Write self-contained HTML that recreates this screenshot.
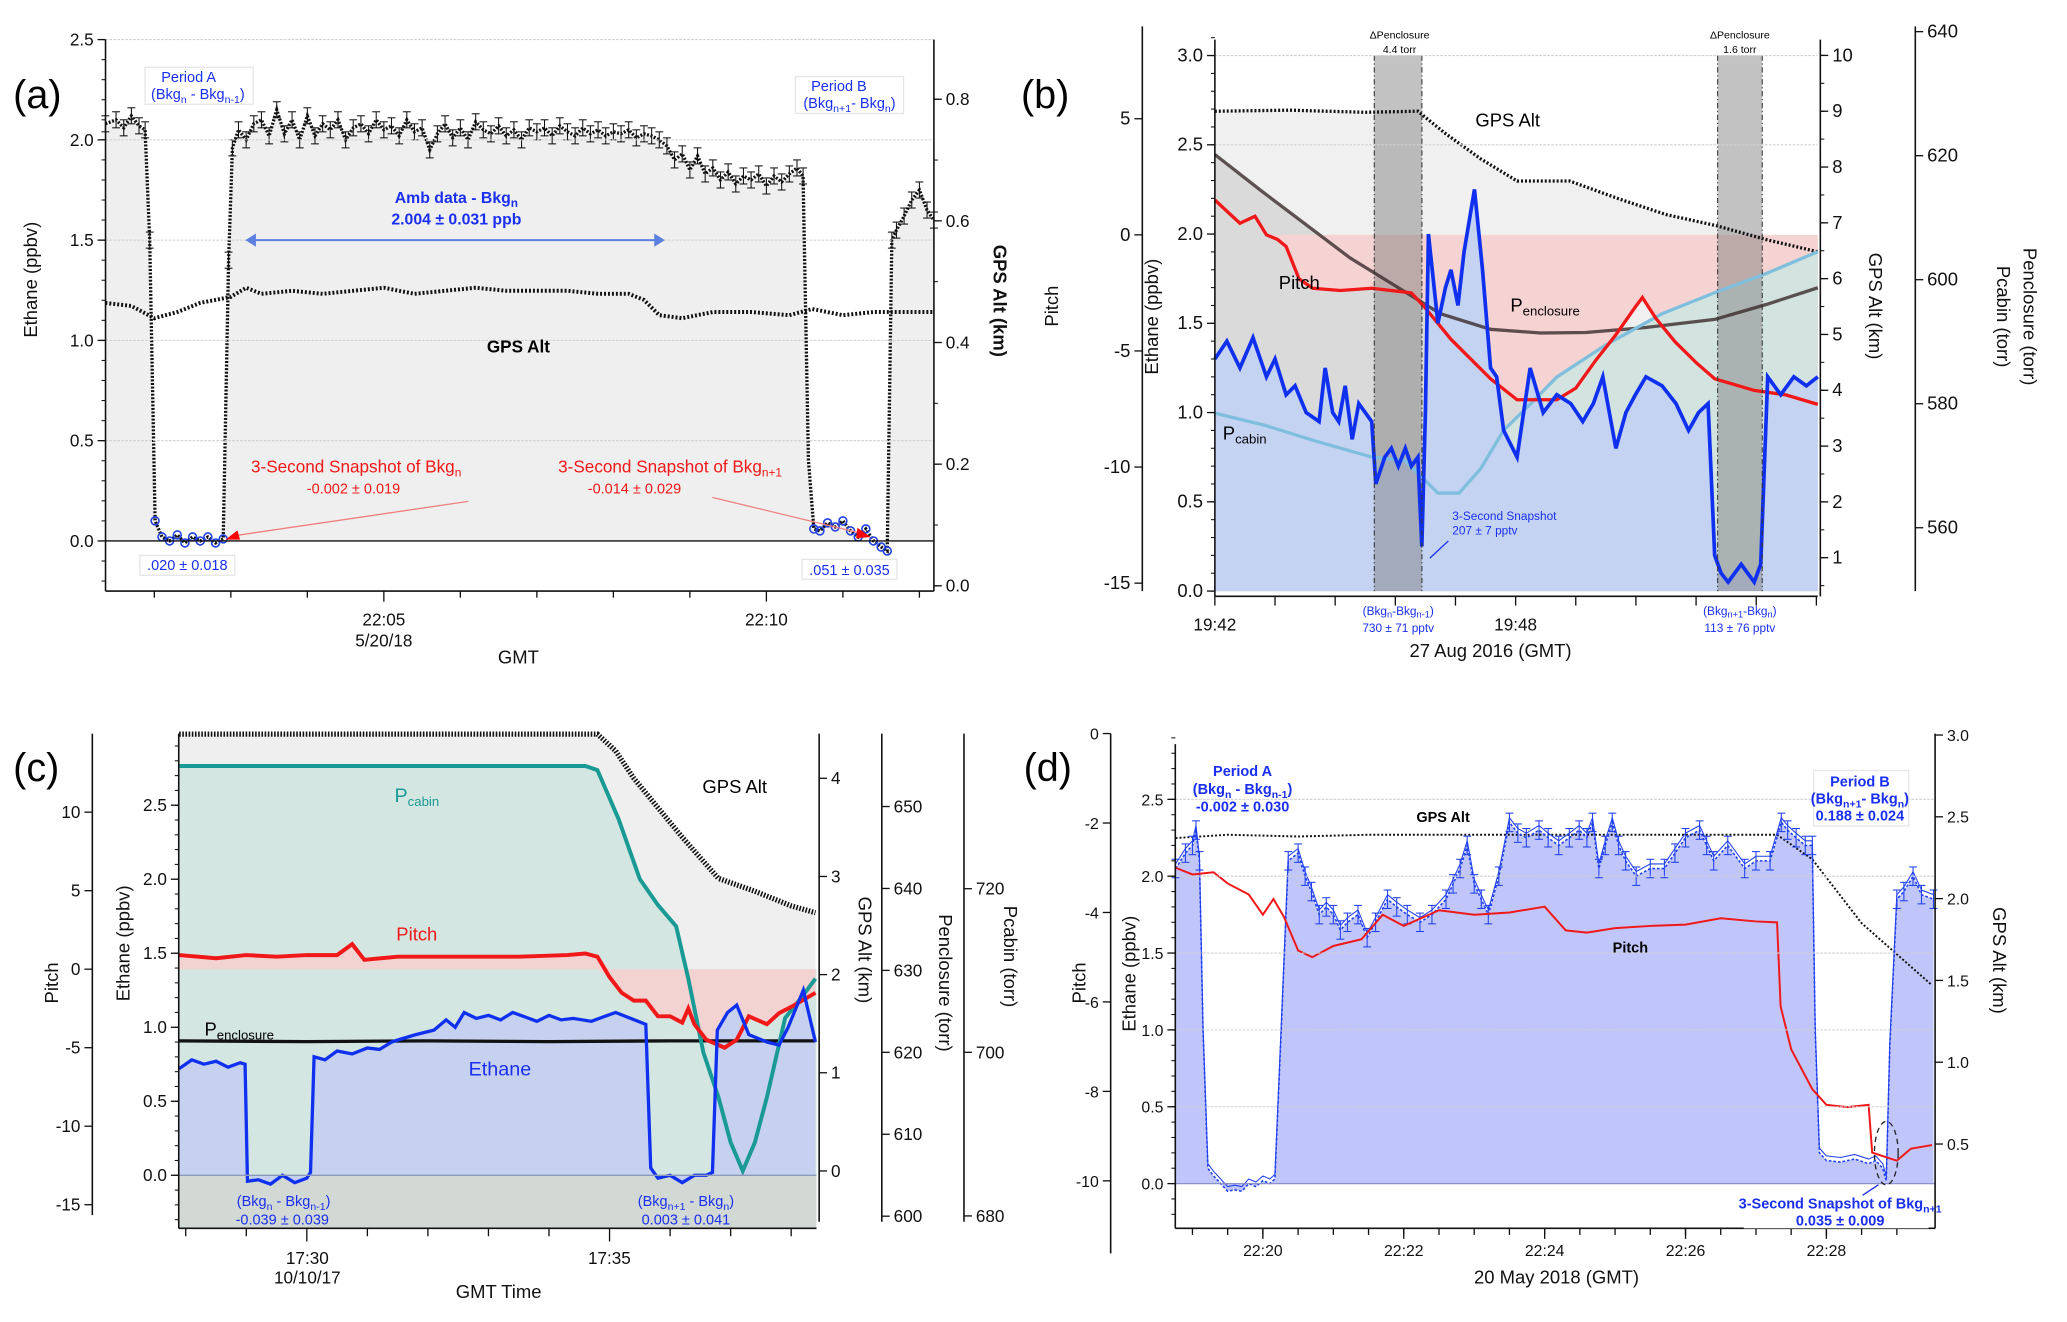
<!DOCTYPE html>
<html><head><meta charset="utf-8">
<style>
html,body{margin:0;padding:0;background:#fff;}
svg{display:block;font-family:"Liberation Sans",Arial,sans-serif;}
.tk{font-size:13px;fill:#111;}
.ttl{font-size:14px;fill:#111;}
.bl{fill:#1a2ff0;}
.rd{fill:#f01818;}
</style></head>
<body>
<svg id="fig" width="2067" height="1322" viewBox="0 0 1567 1002" preserveAspectRatio="none">
<g id="layer-fill"></g>
<g id="layer-series"></g>
<g id="layer-axes"></g>
<g id="layer-text">
 <!-- panel a -->
 <text x="10" y="82" font-size="30">(a)</text>
 <text class="ttl" transform="translate(28,212) rotate(-90)" text-anchor="middle">Ethane (ppbv)</text>
 <text class="ttl" font-weight="bold" transform="translate(753,228) rotate(90)" text-anchor="middle">GPS Alt (km)</text>
 <text class="tk" x="291" y="474" text-anchor="middle">22:05</text>
 <text class="tk" x="291" y="490" text-anchor="middle">5/20/18</text>
 <text class="ttl" x="393" y="503" text-anchor="middle">GMT</text>
 <text class="tk" x="581" y="474" text-anchor="middle">22:10</text>
 <rect x="110" y="51" width="82" height="28" fill="#fff" stroke="#e6e6e6"/>
 <text class="bl" x="143" y="62" font-size="11" text-anchor="middle">Period A</text>
 <text class="bl" x="150" y="75" font-size="11" text-anchor="middle">(Bkg<tspan font-size="8" dy="3">n</tspan><tspan dy="-3"> -  Bkg</tspan><tspan font-size="8" dy="3">n-1</tspan><tspan dy="-3">)</tspan></text>
 <rect x="603" y="58" width="82" height="28" fill="#fff" stroke="#e6e6e6"/>
 <text class="bl" x="636" y="69" font-size="11" text-anchor="middle">Period B</text>
 <text class="bl" x="644" y="82" font-size="11" text-anchor="middle">(Bkg<tspan font-size="8" dy="3">n+1</tspan><tspan dy="-3">- Bkg</tspan><tspan font-size="8" dy="3">n</tspan><tspan dy="-3">)</tspan></text>
 <text class="bl" x="346" y="154" font-size="12" font-weight="bold" text-anchor="middle">Amb data - Bkg<tspan font-size="9" dy="3">n</tspan></text>
 <text class="bl" x="346" y="170" font-size="12" font-weight="bold" text-anchor="middle">2.004 ±  0.031 ppb</text>
 <line x1="192" y1="182" x2="498" y2="182" stroke="#5c7fe0" stroke-width="1.5"/>
 <polygon points="186,182 194,177 194,187" fill="#5c7fe0"/>
 <polygon points="504,182 496,177 496,187" fill="#5c7fe0"/>
 <text x="393" y="267" font-size="13" font-weight="bold" text-anchor="middle">GPS Alt</text>
 <text class="rd" x="270" y="358" font-size="13" text-anchor="middle">3-Second Snapshot of Bkg<tspan font-size="9" dy="3">n</tspan></text>
 <text class="rd" x="268" y="374" font-size="11" text-anchor="middle">-0.002 ± 0.019</text>
 <text class="rd" x="508" y="358" font-size="13" text-anchor="middle">3-Second Snapshot of Bkg<tspan font-size="9" dy="3">n+1</tspan></text>
 <text class="rd" x="481" y="374" font-size="11" text-anchor="middle">-0.014 ± 0.029</text>
 <line x1="355" y1="380" x2="178" y2="406" stroke="#f08080"/>
 <polygon points="171,409 180,402 182,409" fill="#f00"/>
 <line x1="540" y1="377" x2="652" y2="404" stroke="#f08080"/>
 <polygon points="660,407 650,400 649,408" fill="#f00"/>
 <rect x="106" y="421" width="72" height="15" fill="#fff" stroke="#e6e6e6"/>
 <text class="bl" x="142" y="432" font-size="11" text-anchor="middle">.020 ± 0.018</text>
 <rect x="608" y="424" width="72" height="15" fill="#fff" stroke="#e6e6e6"/>
 <text class="bl" x="644" y="436" font-size="11" text-anchor="middle">.051 ± 0.035</text>

 <!-- panel b -->
 <text x="774" y="82" font-size="30">(b)</text>
 <text class="ttl" font-size="15" transform="translate(802,232) rotate(-90)" text-anchor="middle">Pitch</text>
 <text class="ttl" font-size="15" transform="translate(878,240) rotate(-90)" text-anchor="middle">Ethane (ppbv)</text>
 <text class="ttl" font-size="15" transform="translate(1417,232) rotate(90)" text-anchor="middle">GPS Alt (km)</text>
 <text class="ttl" font-size="15" transform="translate(1534,240) rotate(90)" text-anchor="middle">Penclosure (torr)</text>
 <text class="ttl" font-size="15" transform="translate(1514,240) rotate(90)" text-anchor="middle">Pcabin (torr)</text>
 <text class="tk" font-size="15" x="921" y="478" text-anchor="middle">19:42</text>
 <text class="tk" font-size="15" x="1149" y="478" text-anchor="middle">19:48</text>
 <text class="ttl" font-size="16" x="1130" y="498" text-anchor="middle">27 Aug 2016  (GMT)</text>
 <text x="1061" y="29" font-size="8" text-anchor="middle">ΔPenclosure</text>
 <text x="1061" y="40" font-size="8" text-anchor="middle">4.4 torr</text>
 <text x="1319" y="29" font-size="8" text-anchor="middle">ΔPenclosure</text>
 <text x="1319" y="40" font-size="8" text-anchor="middle">1.6 torr</text>
 <text x="1143" y="96" font-size="14" text-anchor="middle">GPS Alt</text>
 <text x="985" y="219" font-size="14" text-anchor="middle">Pitch</text>
 <text x="1145" y="236" font-size="14">P<tspan font-size="10" dy="3">enclosure</tspan></text>
 <text x="927" y="333" font-size="14">P<tspan font-size="10" dy="3">cabin</tspan></text>
 <text class="bl" x="1101" y="394" font-size="9">3-Second Snapshot</text>
 <text class="bl" x="1101" y="405" font-size="9">207 ± 7 pptv</text>
 <line x1="1098" y1="410" x2="1084" y2="423" stroke="#1a2ff0"/>
 <text class="bl" x="1060" y="466" font-size="9" text-anchor="middle">(Bkg<tspan font-size="7" dy="2">n</tspan><tspan dy="-2">-Bkg</tspan><tspan font-size="7" dy="2">n-1</tspan><tspan dy="-2">)</tspan></text>
 <text class="bl" x="1060" y="479" font-size="9" text-anchor="middle">730 ± 71 pptv</text>
 <text class="bl" x="1319" y="466" font-size="9" text-anchor="middle">(Bkg<tspan font-size="7" dy="2">n+1</tspan><tspan dy="-2">-Bkg</tspan><tspan font-size="7" dy="2">n</tspan><tspan dy="-2">)</tspan></text>
 <text class="bl" x="1319" y="479" font-size="9" text-anchor="middle">113 ± 76 pptv</text>

 <!-- panel c -->
 <text x="10" y="592" font-size="30">(c)</text>
 <text class="ttl" transform="translate(44,745) rotate(-90)" text-anchor="middle">Pitch</text>
 <text class="ttl" transform="translate(98,715) rotate(-90)" text-anchor="middle">Ethane (ppbv)</text>
 <text class="ttl" transform="translate(651,720) rotate(90)" text-anchor="middle">GPS Alt (km)</text>
 <text class="ttl" transform="translate(712,745) rotate(90)" text-anchor="middle">Penclosure (torr)</text>
 <text class="ttl" transform="translate(761,725) rotate(90)" text-anchor="middle">Pcabin (torr)</text>
 <text class="tk" x="233" y="958" text-anchor="middle">17:30</text>
 <text class="tk" x="233" y="973" text-anchor="middle">10/10/17</text>
 <text class="tk" x="462" y="958" text-anchor="middle">17:35</text>
 <text class="ttl" x="378" y="984" text-anchor="middle">GMT Time</text>
 <text x="316" y="608" font-size="15" fill="#1a9a94" text-anchor="middle">P<tspan font-size="10" dy="3">cabin</tspan></text>
 <text class="rd" x="316" y="713" font-size="14" text-anchor="middle">Pitch</text>
 <text x="155" y="785" font-size="14">P<tspan font-size="10" dy="3">enclosure</tspan></text>
 <text class="bl" x="379" y="815" font-size="15" text-anchor="middle">Ethane</text>
 <text x="557" y="601" font-size="14" text-anchor="middle">GPS Alt</text>
 <text class="bl" x="215" y="914" font-size="11" text-anchor="middle">(Bkg<tspan font-size="8" dy="3">n</tspan><tspan dy="-3"> - Bkg</tspan><tspan font-size="8" dy="3">n-1</tspan><tspan dy="-3">)</tspan></text>
 <text class="bl" x="214" y="928" font-size="11" text-anchor="middle">-0.039 ± 0.039</text>
 <text class="bl" x="520" y="914" font-size="11" text-anchor="middle">(Bkg<tspan font-size="8" dy="3">n+1</tspan><tspan dy="-3"> - Bkg</tspan><tspan font-size="8" dy="3">n</tspan><tspan dy="-3">)</tspan></text>
 <text class="bl" x="520" y="928" font-size="11" text-anchor="middle">0.003 ± 0.041</text>

 <!-- panel d -->
 <text x="776" y="592" font-size="30">(d)</text>
 <text class="ttl" transform="translate(823,745) rotate(-90)" text-anchor="middle">Pitch</text>
 <text class="ttl" transform="translate(861,738) rotate(-90)" text-anchor="middle">Ethane (ppbv)</text>
 <text class="ttl" transform="translate(1511,728) rotate(90)" text-anchor="middle">GPS Alt (km)</text>
 <text class="ttl" x="1180" y="973" text-anchor="middle">20 May 2018 (GMT)</text>
 <text class="bl" x="942" y="588" font-size="11" font-weight="bold" text-anchor="middle">Period A</text>
 <text class="bl" x="942" y="602" font-size="11" font-weight="bold" text-anchor="middle">(Bkg<tspan font-size="8" dy="3">n</tspan><tspan dy="-3"> -  Bkg</tspan><tspan font-size="8" dy="3">n-1</tspan><tspan dy="-3">)</tspan></text>
 <text class="bl" x="942" y="615" font-size="11" font-weight="bold" text-anchor="middle">-0.002 ± 0.030</text>
 <rect x="1375" y="584" width="72" height="42" fill="#fff" stroke="#e6e6e6"/>
 <text class="bl" x="1410" y="596" font-size="11" font-weight="bold" text-anchor="middle">Period B</text>
 <text class="bl" x="1410" y="609" font-size="11" font-weight="bold" text-anchor="middle">(Bkg<tspan font-size="8" dy="3">n+1</tspan><tspan dy="-3">- Bkg</tspan><tspan font-size="8" dy="3">n</tspan><tspan dy="-3">)</tspan></text>
 <text class="bl" x="1410" y="622" font-size="11" font-weight="bold" text-anchor="middle">0.188 ± 0.024</text>
 <text x="1094" y="623" font-size="11" font-weight="bold" text-anchor="middle">GPS Alt</text>
 <text x="1236" y="722" font-size="11" font-weight="bold" text-anchor="middle">Pitch</text>
 <rect x="1322" y="905" width="140" height="26" fill="#fff"/>
 <text class="bl" x="1395" y="916" font-size="11" font-weight="bold" text-anchor="middle">3-Second Snapshot of Bkg<tspan font-size="8" dy="3">n+1</tspan></text>
 <text class="bl" x="1395" y="929" font-size="11" font-weight="bold" text-anchor="middle">0.035 ± 0.009</text>
 <ellipse cx="1430" cy="874" rx="9" ry="24" fill="none" stroke="#222" stroke-dasharray="4,3"/>
 <line x1="1412" y1="906" x2="1424" y2="898" stroke="#1a2ff0"/>
</g>
</svg>
<script>
// ---------- Panel (a) data ----------
const aTime = [-3.64,-3.5,-3.4,-3.3,-3.2,-3.12,-3.06,-2.99,-2.9,-2.8,-2.7,-2.6,-2.5,-2.4,-2.3,-2.2,-2.1,-2.03,-1.98,-1.9,-1.8,-1.7,-1.6,-1.5,-1.4,-1.3,-1.2,-1.1,-1.0,-0.9,-0.8,-0.7,-0.6,-0.5,-0.4,-0.3,-0.2,-0.1,0,0.1,0.2,0.3,0.4,0.5,0.6,0.7,0.8,0.9,1.0,1.1,1.2,1.3,1.4,1.5,1.6,1.7,1.8,1.9,2.0,2.1,2.2,2.3,2.4,2.5,2.6,2.7,2.8,2.9,3.0,3.1,3.2,3.3,3.4,3.5,3.6,3.7,3.8,3.9,4.0,4.1,4.2,4.3,4.4,4.5,4.6,4.7,4.8,4.9,5.0,5.1,5.2,5.3,5.4,5.48,5.55,5.62,5.7,5.8,5.9,6.0,6.1,6.2,6.3,6.4,6.5,6.58,6.64,6.7,6.8,6.9,7.0,7.1,7.19];
const aEthane = [2.08,2.1,2.06,2.12,2.07,2.05,1.5,0.1,0.02,0.0,0.03,-0.01,0.02,0.0,0.02,-0.01,0.01,1.4,1.96,2.05,2.0,2.08,2.1,2.02,2.15,2.03,2.1,2.0,2.12,2.02,2.08,2.05,2.1,2.0,2.06,2.08,2.03,2.1,2.05,2.07,2.02,2.1,2.04,2.06,1.95,2.03,2.08,2.01,2.06,2.0,2.09,2.05,2.03,2.07,2.02,2.05,2.0,2.06,2.04,2.06,2.02,2.07,2.04,2.02,2.06,2.03,2.05,2.02,2.04,2.03,2.05,2.01,2.03,2.02,2.0,1.97,1.9,1.93,1.85,1.92,1.83,1.86,1.8,1.84,1.78,1.82,1.8,1.83,1.77,1.82,1.79,1.83,1.86,1.82,0.4,0.06,0.05,0.09,0.07,0.1,0.05,0.02,0.06,0.0,-0.03,-0.05,1.5,1.55,1.62,1.7,1.75,1.65,1.6];
const aGpsTime = [-3.64,-3.3,-3.0,-2.7,-2.4,-2.0,-1.8,-1.6,-1.2,-0.8,-0.4,0,0.4,0.8,1.2,1.6,2.0,2.4,2.8,3.2,3.4,3.6,3.9,4.3,4.8,5.3,5.6,6.0,6.4,6.8,7.19];
const aGps = [0.465,0.46,0.44,0.45,0.465,0.475,0.49,0.48,0.485,0.48,0.485,0.49,0.48,0.485,0.49,0.485,0.485,0.485,0.48,0.48,0.47,0.445,0.44,0.45,0.45,0.445,0.455,0.445,0.45,0.45,0.45];
const aYTicks = [0,0.5,1.0,1.5,2.0,2.5];
const aY2Ticks = [0,0.2,0.4,0.6,0.8];
const aXMinutes = [-3,-2,-1,0,1,2,3,4,5,6,7];

// ---------- Panel (b) data ----------
const bTime = [0,0.24,0.5,0.76,1.03,1.2,1.42,1.6,1.82,2.08,2.2,2.35,2.47,2.6,2.74,2.87,3.0,3.13,3.21,3.39,3.52,3.66,3.8,3.92,4.05,4.13,4.2,4.26,4.45,4.6,4.71,4.85,4.97,5.18,5.34,5.5,5.62,5.76,6.03,6.29,6.55,6.82,7.1,7.34,7.55,7.74,8.0,8.2,8.39,8.6,8.92,9.2,9.45,9.65,9.84,9.97,10.1,10.24,10.5,10.76,10.89,11.03,11.29,11.55,11.8,12.03];
const bEthane = [1.3,1.4,1.25,1.42,1.2,1.3,1.1,1.15,1.0,0.95,1.25,1.0,0.95,1.15,0.85,1.05,1.0,0.95,0.6,0.75,0.8,0.7,0.8,0.7,0.75,0.25,1.0,2.0,1.5,1.7,1.8,1.6,1.9,2.25,1.8,1.25,1.2,0.9,0.75,1.25,1.0,1.1,1.05,0.95,1.05,1.2,0.8,1.0,1.1,1.2,1.15,1.05,0.9,1.0,1.05,0.2,0.1,0.05,0.15,0.05,0.15,1.2,1.1,1.2,1.15,1.2];
const bPitchTime = [0,0.3,0.5,0.8,1.03,1.25,1.42,1.68,1.95,2.5,3.13,3.92,4.18,4.71,5.5,6.03,6.82,7.2,7.6,8.0,8.39,8.53,8.8,9.18,9.6,9.97,10.76,11.4,12.03];
const bPitch = [1.5,0.9,0.5,0.8,0.0,-0.2,-0.5,-1.9,-2.3,-2.4,-2.3,-2.5,-3.1,-4.5,-6.2,-7.1,-7.1,-6.6,-5.4,-4.3,-3.1,-2.7,-3.6,-4.6,-5.5,-6.2,-6.7,-6.9,-7.3];
const bPencTime = [0,0.9,1.8,2.7,3.66,4.5,5.5,6.5,7.4,8.6,9.97,11.0,12.03];
const bPenc = [620.2,614.5,609,603.5,598.7,594.5,592,591.4,591.5,592.3,593.6,596,598.7];
const bCabinTime = [0,1.0,2.0,3.13,3.8,4.45,4.87,5.3,5.76,6.3,6.82,7.8,8.92,10.0,11.0,12.03];
const bCabin = [578.5,576.5,574,571.4,570.8,565.6,565.6,569.5,575.7,580,584.3,589.5,594.5,598,601,604.5];
const bGpsTime = [0,1.5,3.0,4.05,4.6,5.3,6.03,6.5,7.08,8.0,9.0,10.0,11.0,12.03];
const bGps = [9.0,9.02,8.98,9.0,8.6,8.15,7.75,7.75,7.75,7.45,7.15,6.95,6.7,6.48];
const bBands = [[3.18,4.13],[10.03,10.92]];
const bYTicks = [0,0.5,1.0,1.5,2.0,2.5,3.0];
const bPitchTicks = [5,0,-5,-10,-15];
const bGpsTicks = [1,2,3,4,5,6,7,8,9,10];
const bTorrTicks = [560,580,600,620,640];
const bXMinutes = [0,1.2,2.4,3.6,4.8,6.0,7.2,8.4,9.6,10.8,12.0];

// ---------- Panel (c) data ----------
const cTime = [-2.11,-1.9,-1.7,-1.5,-1.3,-1.1,-1.02,-0.98,-0.8,-0.6,-0.4,-0.2,0.0,0.06,0.12,0.3,0.5,0.75,1.0,1.2,1.4,1.55,1.8,2.1,2.3,2.45,2.6,2.8,3.0,3.2,3.4,3.6,3.8,4.0,4.2,4.4,4.7,4.9,5.1,5.35,5.6,5.68,5.8,6.0,6.2,6.4,6.6,6.7,6.78,6.95,7.1,7.3,7.6,7.8,7.95,8.2,8.4];
const cEthane = [0.72,0.78,0.75,0.77,0.73,0.76,0.75,-0.04,-0.03,-0.06,0.0,-0.05,-0.02,0.02,0.8,0.78,0.84,0.82,0.86,0.85,0.9,0.92,0.95,0.98,1.05,1.0,1.1,1.06,1.08,1.05,1.1,1.07,1.04,1.08,1.05,1.06,1.04,1.07,1.1,1.06,1.02,0.05,-0.02,0.0,-0.05,0.0,0.0,0.02,0.98,1.1,1.15,0.95,0.9,0.88,1.0,1.25,0.9];
const cPitchTime = [-2.11,-1.5,-1.0,-0.5,0.0,0.5,0.75,0.95,1.5,2.5,3.5,4.3,4.6,4.8,5.0,5.2,5.4,5.6,5.8,6.0,6.2,6.3,6.4,6.6,6.9,7.1,7.3,7.6,7.8,8.0,8.4];
const cPitch = [0.9,0.7,0.9,0.8,0.9,0.9,1.6,0.6,0.8,0.8,0.8,0.9,1.0,0.8,-0.5,-1.5,-2.0,-2.0,-3.0,-3.0,-3.4,-2.5,-3.5,-4.5,-5.0,-4.5,-3.0,-3.5,-2.8,-2.4,-1.5];
const cPencTime = [-2.11,0,2,4,6,8.4];
const cPenc = [621.4,621.3,621.4,621.3,621.4,621.4];
const cCabinTime = [-2.11,-1.0,0,1,2,3,4,4.6,4.8,5.15,5.5,5.8,6.1,6.3,6.55,6.8,7.0,7.2,7.4,7.6,7.9,8.2,8.4];
const cCabin = [735,735,735,735,735,735,735,735,734.5,728.5,721.2,718,715.4,709,700,694.5,689,685.5,689,694.5,704.2,707,709];
const cGpsTime = [-2.11,0,2,4,4.8,5.1,5.4,5.8,6.2,6.8,7.4,8.0,8.4];
const cGps = [4.45,4.45,4.45,4.45,4.45,4.28,4.0,3.7,3.4,2.98,2.85,2.7,2.63];
const cYTicks = [0,0.5,1.0,1.5,2.0,2.5];
const cPitchTicks = [10,5,0,-5,-10,-15];
const cGpsTicks = [0,1,2,3,4];
const cPencTicks = [600,610,620,630,640,650];
const cCabinTicks = [680,700,720];
const cXMinutes = [-2,-1,0,1,2,3,4,5,6,7,8];

// ---------- Panel (d) data ----------
const dTime = [-1.24,-1.1,-1.0,-0.95,-0.9,-0.85,-0.78,-0.7,-0.6,-0.5,-0.4,-0.3,-0.2,-0.1,0.0,0.1,0.17,0.26,0.36,0.5,0.6,0.69,0.8,0.9,1.0,1.1,1.2,1.35,1.48,1.6,1.77,1.9,2.05,2.23,2.4,2.6,2.7,2.8,2.9,3.0,3.1,3.2,3.35,3.5,3.62,3.74,3.92,4.05,4.2,4.35,4.49,4.6,4.68,4.77,4.86,4.96,5.05,5.15,5.3,5.5,5.7,5.85,6.0,6.2,6.3,6.4,6.6,6.84,7.0,7.2,7.36,7.45,7.57,7.7,7.8,7.84,7.9,8.0,8.2,8.4,8.6,8.7,8.8,8.85,8.9,9.0,9.1,9.23,9.35,9.52];
const dEthane = [2.05,2.15,2.2,2.3,2.1,1.0,0.1,0.05,0.0,-0.05,-0.04,-0.05,0.0,-0.02,0.02,0.0,0.03,1.0,2.1,2.15,2.0,1.9,1.75,1.8,1.75,1.65,1.7,1.75,1.6,1.7,1.85,1.8,1.75,1.7,1.75,1.85,1.95,2.05,2.2,1.95,1.85,1.75,2.0,2.35,2.28,2.25,2.3,2.25,2.2,2.25,2.3,2.25,2.35,2.05,2.2,2.35,2.2,2.1,2.0,2.05,2.05,2.15,2.25,2.3,2.2,2.1,2.2,2.05,2.1,2.1,2.35,2.3,2.25,2.2,2.2,1.0,0.2,0.15,0.14,0.16,0.13,0.15,0.1,0.02,0.9,1.85,1.9,2.0,1.88,1.85];
const dPitchTime = [-1.24,-1.0,-0.7,-0.5,-0.2,0.0,0.15,0.3,0.5,0.7,1.0,1.4,1.7,2.0,2.5,3.0,3.5,4.0,4.3,4.6,5.0,5.5,6.0,6.5,7.0,7.3,7.35,7.5,7.8,8.0,8.3,8.6,8.65,9.0,9.2,9.5];
const dPitch = [-3.0,-3.15,-3.1,-3.35,-3.6,-4.05,-3.7,-4.1,-4.85,-5.0,-4.75,-4.6,-4.05,-4.3,-3.95,-4.05,-4.0,-3.87,-4.4,-4.45,-4.35,-4.3,-4.27,-4.13,-4.2,-4.22,-6.1,-7.06,-7.95,-8.3,-8.35,-8.3,-9.37,-9.55,-9.28,-9.2];
const dGpsTime = [-1.24,-0.5,0.5,1.5,3,4.5,6,7.3,7.8,8.5,9.5];
const dGps = [2.37,2.39,2.38,2.39,2.39,2.39,2.39,2.39,2.24,1.85,1.47];
const dYTicks = [0,0.5,1.0,1.5,2.0,2.5];
const dPitchTicks = [0,-2,-4,-6,-8,-10];
const dGpsTicks = [0.5,1.0,1.5,2.0,2.5,3.0];
const dXLabels = ['22:20','22:22','22:24','22:26','22:28'];
const dXMajor = [0,2,4,6,8];
const dXMinor = [-1,-0.5,0,0.5,1,1.5,2,2.5,3,3.5,4,4.5,5,5.5,6,6.5,7,7.5,8,8.5,9];

// ---------- helpers ----------
const NS = 'http://www.w3.org/2000/svg';
const LF = document.getElementById('layer-fill');
const LS = document.getElementById('layer-series');
const LA = document.getElementById('layer-axes');
function mk(parent, tag, attrs, name) {
  const el = document.createElementNS(NS, tag);
  for (const k in attrs) el.setAttribute(k, attrs[k]);
  
  
  parent.appendChild(el);
  return el;
}
function pts(xs, ys, fx, fy) { return xs.map((t, i) => fx(t).toFixed(1) + ',' + fy(ys[i]).toFixed(1)); }
function linePath(xs, ys, fx, fy) { return 'M' + pts(xs, ys, fx, fy).join('L'); }
function areaPath(xs, ys, fx, fy, base) {
  return linePath(xs, ys, fx, fy) + 'L' + fx(xs[xs.length-1]).toFixed(1) + ',' + base + 'L' + fx(xs[0]).toFixed(1) + ',' + base + 'Z';
}
function vAxis(x, y1, y2, ticks, fy, side, fmt, name, fs, minor) {
  mk(LA, 'line', {x1:x, y1:y1, x2:x, y2:y2, stroke:'#111', 'stroke-width':1.2}, name + '-line');
  const d = side === 'left' ? -1 : 1;
  if (minor) minor.forEach(v => {
    mk(LA, 'line', {x1:x, y1:fy(v), x2:x + d*3, y2:fy(v), stroke:'#111', 'stroke-width':0.8}, name + '-minor-tick');
  });
  ticks.forEach(v => {
    const y = fy(v);
    mk(LA, 'line', {x1:x, y1:y, x2:x + d*6, y2:y, stroke:'#111', 'stroke-width':1}, name + '-tick');
    const t = mk(LA, 'text', {x: x + d*9, y: y + 4.5, 'text-anchor': side === 'left' ? 'end' : 'start', 'font-size': fs || 13, fill:'#111'}, name + '-tick-label');
    t.textContent = fmt(v);
  });
}
function hGrid(x1, x2, vals, fy, name) {
  vals.forEach(v => mk(LA, 'line', {x1:x1, x2:x2, y1:fy(v), y2:fy(v), stroke:'#cfcfcf', 'stroke-width':0.8, 'stroke-dasharray':'2,1'}, name));
}
function range(a, b, s) { const r = []; for (let v = a; v <= b + 1e-9; v += s) r.push(+v.toFixed(4)); return r; }

// ---------- Panel (a) ----------
(function(){
  const fx = t => 291 + 58*t, fy = e => 410 - 152*e, fy2 = k => 444 - 461*k;
  mk(LF, 'path', {d: areaPath(aTime, aEthane, fx, fy, fy(0)), fill:'#efefef'}, 'panel-a-ethane-fill');
  hGrid(80, 708, [0.5,1.0,1.5,2.0,2.5], fy, 'panel-a-gridline');
  mk(LA, 'line', {x1:80, x2:708, y1:fy(0), y2:fy(0), stroke:'#111', 'stroke-width':1}, 'panel-a-zero-line');
  mk(LS, 'path', {d: linePath(aGpsTime, aGps, fx, fy2), fill:'none', stroke:'#111', 'stroke-width':3, 'stroke-dasharray':'1.5,1.5'}, 'panel-a-gps-line');
  mk(LS, 'path', {d: linePath(aTime, aEthane, fx, fy), fill:'none', stroke:'#111', 'stroke-width':2.5, 'stroke-dasharray':'1.5,1.2'}, 'panel-a-ethane-line');
  aTime.forEach((t, i) => {
    const e = aEthane[i], x = fx(t);
    if (e > 1.0) {
      mk(LS, 'line', {x1:x, x2:x, y1:fy(e+0.04), y2:fy(e-0.04), stroke:'#111', 'stroke-width':0.8}, 'panel-a-error-bar');
      mk(LS, 'line', {x1:x-3, x2:x+3, y1:fy(e+0.04), y2:fy(e+0.04), stroke:'#111', 'stroke-width':0.8}, 'panel-a-error-cap');
      mk(LS, 'line', {x1:x-3, x2:x+3, y1:fy(e-0.04), y2:fy(e-0.04), stroke:'#111', 'stroke-width':0.8}, 'panel-a-error-cap');
    } else if (e < 0.2) {
      mk(LS, 'circle', {cx:x, cy:fy(e), r:3, fill:'none', stroke:'#2040e0', 'stroke-width':1.2}, 'panel-a-bkg-point');
    }
  });
  vAxis(80, 30, 448, aYTicks, fy, 'left', v => v.toFixed(1), 'panel-a-y-axis', 13, range(-0.2, 2.5, 0.1));
  vAxis(708, 30, 448, aY2Ticks, fy2, 'right', v => v.toFixed(1), 'panel-a-y2-axis', 13, range(0, 0.8, 0.1));
  mk(LA, 'line', {x1:80, x2:708, y1:448, y2:448, stroke:'#111', 'stroke-width':1.2}, 'panel-a-x-axis');
  aXMinutes.forEach(m => mk(LA, 'line', {x1:fx(m), x2:fx(m), y1:448, y2:(m % 5 === 0 ? 456 : 453), stroke:'#111'}, 'panel-a-x-tick'));
})();

// ---------- Panel (b) ----------
(function(){
  const fx = t => 921 + 38*t, fy = e => 448 - 135.3*e, fp = p => 178 - 17.6*p,
        fg = k => 465 - 42.3*k, ft = v => 24 + (640 - v)*4.7;
  const R = 1378;
  mk(LF, 'path', {d: areaPath(bGpsTime, bGps, fx, fg, 448), fill:'#f0f0f0'}, 'panel-b-gps-fill');
  mk(LF, 'path', {d: areaPath(bPencTime, bPenc, fx, ft, 448), fill:'#dadada'}, 'panel-b-penc-fill');
  const pitchClamp = bPitch.map(p => Math.min(p, 0));
  mk(LF, 'path', {d: areaPath(bPitchTime, pitchClamp, fx, fp, fp(0)), fill:'#f5d3d2'}, 'panel-b-pitch-fill');
  mk(LF, 'path', {d: areaPath(bCabinTime, bCabin, fx, ft, 448), fill:'#d3e4e0'}, 'panel-b-pcabin-fill');
  mk(LF, 'path', {d: areaPath(bTime, bEthane, fx, fy, 448), fill:'#c5d3f3'}, 'panel-b-ethane-fill');
  bBands.forEach(b => {
    mk(LF, 'rect', {x:fx(b[0]), y:42, width:fx(b[1]) - fx(b[0]), height:406, fill:'#777', 'fill-opacity':0.45}, 'panel-b-penc-band');
    mk(LA, 'line', {x1:fx(b[0]), x2:fx(b[0]), y1:42, y2:448, stroke:'#333', 'stroke-width':0.8, 'stroke-dasharray':'4,2,1,2'}, 'panel-b-band-edge');
    mk(LA, 'line', {x1:fx(b[1]), x2:fx(b[1]), y1:42, y2:448, stroke:'#333', 'stroke-width':0.8, 'stroke-dasharray':'4,2,1,2'}, 'panel-b-band-edge');
  });
  hGrid(921, R, [2.5, 3.0], fy, 'panel-b-gridline');
  mk(LS, 'path', {d: linePath(bGpsTime, bGps, fx, fg), fill:'none', stroke:'#111', 'stroke-width':2.5, 'stroke-dasharray':'1.5,1.5'}, 'panel-b-gps-line');
  mk(LS, 'path', {d: linePath(bPencTime, bPenc, fx, ft), fill:'none', stroke:'#3a2a2a', 'stroke-width':2.5, 'stroke-opacity':0.8}, 'panel-b-penc-line');
  mk(LS, 'path', {d: linePath(bCabinTime, bCabin, fx, ft), fill:'none', stroke:'#7fbfdd', 'stroke-width':2.5}, 'panel-b-pcabin-line');
  mk(LS, 'path', {d: linePath(bPitchTime, bPitch, fx, fp), fill:'none', stroke:'#f01818', 'stroke-width':2.5}, 'panel-b-pitch-line');
  mk(LS, 'path', {d: linePath(bTime, bEthane, fx, fy), fill:'none', stroke:'#1030f0', 'stroke-width':2.8}, 'panel-b-ethane-line');
  vAxis(866, 20, 448, bPitchTicks, fp, 'left', v => String(v), 'panel-b-pitch-axis', 14, null);
  vAxis(921, 30, 452, bYTicks, fy, 'left', v => v.toFixed(1), 'panel-b-y-axis', 14, range(0, 3.1, 0.1));
  vAxis(1380, 30, 452, bGpsTicks, fg, 'right', v => String(v), 'panel-b-gps-axis', 14, range(0.5, 10.0, 0.5));
  vAxis(1452, 20, 448, bTorrTicks, ft, 'right', v => String(v), 'panel-b-torr-axis', 14, null);
  mk(LA, 'line', {x1:921, x2:R, y1:452, y2:452, stroke:'#111', 'stroke-width':1.2}, 'panel-b-x-axis');
  bXMinutes.forEach(m => mk(LA, 'line', {x1:fx(m), x2:fx(m), y1:452, y2:459, stroke:'#111'}, 'panel-b-x-tick'));
})();

// ---------- Panel (c) ----------
(function(){
  const fx = t => 232.6 + 45.9*t, fy = e => 890.8 - 112.2*e, fp = p => 734.6 - 11.9*p,
        fg = k => 887.5 - 74.4*k, fpen = v => 611.3 + (650 - v)*6.21, fcab = v => 673.6 + (720 - v)*6.2;
  const L = 135.5, R = 619, T = 556, B = 931;
  mk(LF, 'path', {d: areaPath(cGpsTime, cGps, fx, fg, B), fill:'#efefef'}, 'panel-c-gps-fill');
  mk(LF, 'rect', {x:L, y:fy(0), width:R-L, height:B-fy(0), fill:'#d2d9d5'}, 'panel-c-below-zero-fill');
  mk(LF, 'path', {d: areaPath(cCabinTime, cCabin, fx, fcab, fy(0)), fill:'#d4e6e2'}, 'panel-c-pcabin-fill');
  mk(LF, 'rect', {x:fx(4.7), y:fp(0), width:R - fx(4.7), height:fy(0) - fp(0), fill:'#d4e6e2'}, 'panel-c-pcabin-fill-tail');
  const pPos = cPitch.map(p => Math.max(p, 0)), pNeg = cPitch.map(p => Math.min(p, 0));
  mk(LF, 'path', {d: areaPath(cPitchTime, pPos, fx, fp, fp(0)), fill:'#f3d2d2'}, 'panel-c-pitch-fill-pos');
  mk(LF, 'path', {d: areaPath(cPitchTime, pNeg, fx, fp, fp(0)), fill:'#f3d2d2'}, 'panel-c-pitch-fill-neg');
  mk(LF, 'path', {d: areaPath(cTime, cEthane, fx, fy, fy(0)), fill:'#c6d1f0'}, 'panel-c-ethane-fill');
  mk(LA, 'line', {x1:L, x2:R, y1:fy(0), y2:fy(0), stroke:'#8a9ab8', 'stroke-width':1}, 'panel-c-zero-line');
  mk(LS, 'path', {d: linePath(cGpsTime, cGps, fx, fg), fill:'none', stroke:'#111', 'stroke-width':4, 'stroke-dasharray':'1.2,1.2'}, 'panel-c-gps-line');
  mk(LS, 'path', {d: linePath(cPencTime, cPenc, fx, fpen), fill:'none', stroke:'#111', 'stroke-width':2.5}, 'panel-c-penc-line');
  mk(LS, 'path', {d: linePath(cCabinTime, cCabin, fx, fcab), fill:'none', stroke:'#1a9a94', 'stroke-width':3}, 'panel-c-pcabin-line');
  mk(LS, 'path', {d: linePath(cPitchTime, cPitch, fx, fp), fill:'none', stroke:'#f01818', 'stroke-width':3}, 'panel-c-pitch-line');
  mk(LS, 'path', {d: linePath(cTime, cEthane, fx, fy), fill:'none', stroke:'#1030f0', 'stroke-width':2.5}, 'panel-c-ethane-line');
  vAxis(70, T, B - 10, cPitchTicks, fp, 'left', v => String(v), 'panel-c-pitch-axis', 13, null);
  vAxis(L, T, B, cYTicks, fy, 'left', v => v.toFixed(1), 'panel-c-y-axis', 13, range(-0.3, 2.9, 0.1));
  vAxis(621, T, B - 5, cGpsTicks, fg, 'right', v => String(v), 'panel-c-gps-axis', 13, null);
  vAxis(668.5, T, B - 5, cPencTicks, fpen, 'right', v => String(v), 'panel-c-penc-axis', 13, null);
  vAxis(730.8, T, B - 5, cCabinTicks, fcab, 'right', v => String(v), 'panel-c-pcabin-axis', 13, null);
  mk(LA, 'line', {x1:L, x2:R, y1:B, y2:B, stroke:'#111', 'stroke-width':1.2}, 'panel-c-x-axis');
  cXMinutes.forEach(m => mk(LA, 'line', {x1:fx(m), x2:fx(m), y1:B, y2:(m % 5 === 0 ? B + 10 : B + 6), stroke:'#111'}, 'panel-c-x-tick'));
})();

// ---------- Panel (d) ----------
(function(){
  const fx = t => 957.4 + 53.4*t, fy = e => 897.1 - 116.5*e, fp = p => 556 - 33.9*p, fg = k => 867.1 - 124*(k - 0.5);
  const L = 891, R = 1467, T = 556, B = 931;
  mk(LF, 'path', {d: areaPath(dTime, dEthane, fx, fy, fy(0)), fill:'#c0c6fa'}, 'panel-d-ethane-fill');
  hGrid(L, R, [0.5,1.0,1.5,2.0,2.5], fy, 'panel-d-gridline');
  mk(LA, 'line', {x1:L, x2:R, y1:fy(0), y2:fy(0), stroke:'#8a90c8', 'stroke-width':1}, 'panel-d-zero-line');
  mk(LS, 'path', {d: linePath(dGpsTime, dGps, fx, fg), fill:'none', stroke:'#111', 'stroke-width':1.5, 'stroke-dasharray':'1.5,1.5'}, 'panel-d-gps-line');
  mk(LS, 'path', {d: linePath(dTime, dEthane, fx, fy), fill:'none', stroke:'#2040f0', 'stroke-width':1.2, 'stroke-dasharray':'2,1.5'}, 'panel-d-ethane-line');
  mk(LS, 'path', {d: linePath(dTime, dEthane.map(e => e + 0.03), fx, fy), fill:'none', stroke:'#2040f0', 'stroke-width':0.8}, 'panel-d-ethane-line-upper');
  dTime.forEach((t, i) => {
    const e = dEthane[i], x = fx(t);
    if (e > 1.2) {
      mk(LS, 'line', {x1:x, x2:x, y1:fy(e+0.06), y2:fy(e-0.06), stroke:'#2040f0', 'stroke-width':0.8}, 'panel-d-error-bar');
      mk(LS, 'line', {x1:x-3, x2:x+3, y1:fy(e+0.06), y2:fy(e+0.06), stroke:'#2040f0', 'stroke-width':0.8}, 'panel-d-error-cap');
      mk(LS, 'line', {x1:x-3, x2:x+3, y1:fy(e-0.06), y2:fy(e-0.06), stroke:'#2040f0', 'stroke-width':0.8}, 'panel-d-error-cap');
    }
  });
  mk(LS, 'path', {d: linePath(dPitchTime, dPitch, fx, fp), fill:'none', stroke:'#f01818', 'stroke-width':1.5}, 'panel-d-pitch-line');
  vAxis(842, T, 950, dPitchTicks, fp, 'left', v => String(v), 'panel-d-pitch-axis', 12, null);
  vAxis(L, T + 8, B, dYTicks, fy, 'left', v => v.toFixed(1), 'panel-d-y-axis', 12, range(-0.2, 2.9, 0.1));
  vAxis(R, T, B, dGpsTicks, fg, 'right', v => v.toFixed(1), 'panel-d-gps-axis', 12, null);
  mk(LA, 'line', {x1:L, x2:R, y1:B, y2:B, stroke:'#111', 'stroke-width':1.2}, 'panel-d-x-axis');
  dXMinor.forEach(m => mk(LA, 'line', {x1:fx(m), x2:fx(m), y1:B, y2:B + 5, stroke:'#111'}, 'panel-d-x-minor-tick'));
  dXMajor.forEach((m, i) => {
    mk(LA, 'line', {x1:fx(m), x2:fx(m), y1:B, y2:B + 8, stroke:'#111'}, 'panel-d-x-tick');
    const t = mk(LA, 'text', {x:fx(m), y:B + 21, 'text-anchor':'middle', 'font-size':12, fill:'#111'}, 'panel-d-x-tick-label');
    t.textContent = dXLabels[i];
  });
})();
</script>
</body></html>
